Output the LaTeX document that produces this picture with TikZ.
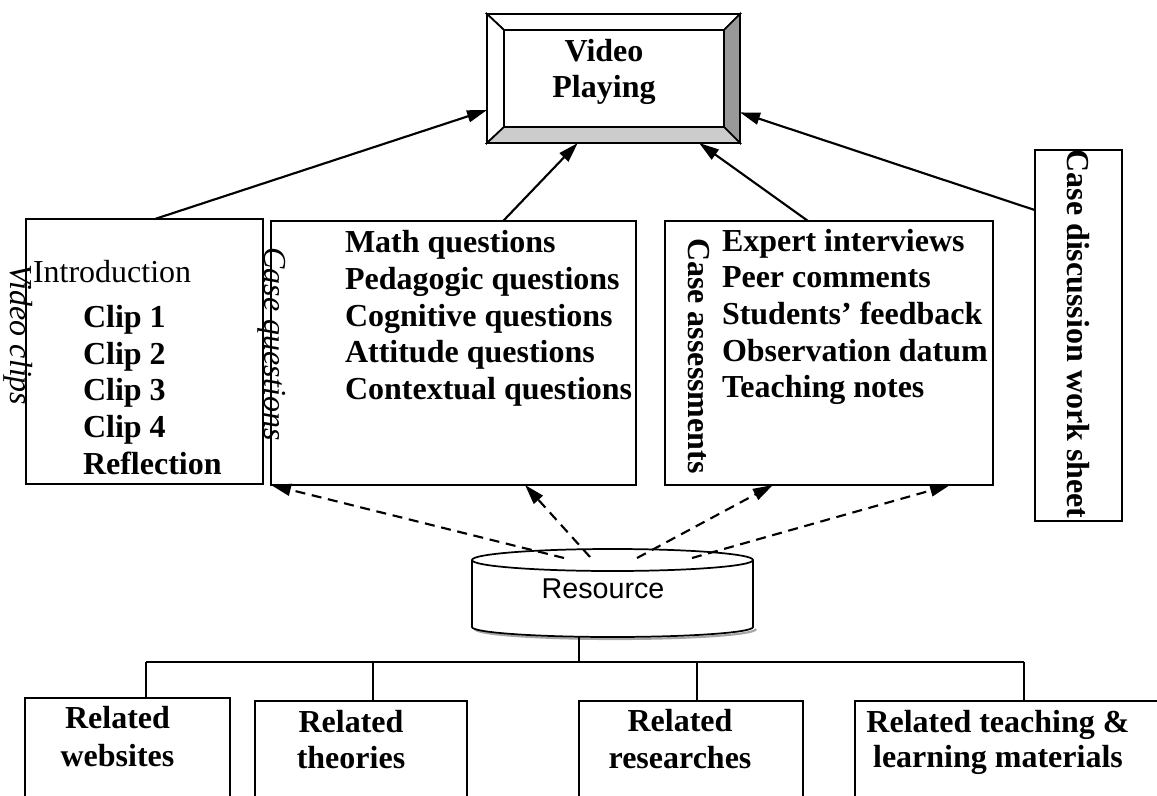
\documentclass[tikz,border=0pt]{standalone}
\usepackage{fontspec}
\setmainfont{Liberation Serif}
\newfontfamily\sansf{Liberation Sans}
\usetikzlibrary{arrows.meta,calc}
\begin{document}
\begin{tikzpicture}[x=0.75pt,y=-0.75pt,
  every node/.style={inner sep=0pt, outer sep=0pt},
  box/.style={draw, line width=1.3pt, rectangle, anchor=north west, fill=white},
  bold/.style={font=\fontsize{24}{28}\selectfont\bfseries},
  ital/.style={font=\fontsize{24}{28}\selectfont\itshape},
  plain/.style={font=\fontsize{24}{28}\selectfont},
  lineL/.style={anchor=base west, bold},
  lineC/.style={anchor=base, bold},
  arr/.style={line width=1.6pt, -{Triangle[length=15pt,width=9pt]}},
  darr/.style={arr, dash pattern=on 7.5pt off 5pt},
  tree/.style={line width=1.3pt},
  bevel/.style={draw, line width=1.3pt, line join=miter}
]
\useasboundingbox (0,0) rectangle (1157,796);
\clip (0,0) rectangle (1157,796);

% ---------- Video Playing (bevel box) ----------
\node[anchor=north west, minimum width=253*0.75pt, minimum height=129*0.75pt] (vp) at (487,14) {};
\coordinate (iNW) at ($(vp.north west)+(17,16)$);
\coordinate (iNE) at ($(vp.north east)+(-16,16)$);
\coordinate (iSW) at ($(vp.south west)+(17,-16)$);
\coordinate (iSE) at ($(vp.south east)+(-16,-16)$);
\path[bevel, fill=white] (vp.north west) -- (vp.north east) -- (iNE) -- (iNW) -- cycle;
\path[bevel, fill=white] (vp.north west) -- (iNW) -- (iSW) -- (vp.south west) -- cycle;
\path[bevel, fill=black!40] (vp.north east) -- (vp.south east) -- (iSE) -- (iNE) -- cycle;
\path[bevel, fill=black!20] (vp.south west) -- (iSW) -- (iSE) -- (vp.south east) -- cycle;
\path[bevel, fill=white] (iNW) rectangle (iSE);
\node[lineC] (vp1) at (604,61) {Video};
\node[lineC] (vp2) at (604,97) {Playing};

% ---------- middle row boxes ----------
\node[box, minimum width=237*0.75pt, minimum height=265*0.75pt] (clips) at (26,219) {};
\node[box, minimum width=365*0.75pt, minimum height=264*0.75pt] (cq) at (271,221) {};
\node[box, minimum width=328*0.75pt, minimum height=264*0.75pt] (ca) at (665,221) {};
\node[box, minimum width=87*0.75pt, minimum height=371*0.75pt] (cd) at (1035,150) {};

% Video clips box
\node[plain, anchor=base west] (intro) at (33,282) {Introduction};
\node[lineL] (c1) at (83,327) {Clip 1};
\node[lineL] (c2) at (83,364) {Clip 2};
\node[lineL] (c3) at (83,400) {Clip 3};
\node[lineL] (c4) at (83,437) {Clip 4};
\node[lineL] (c5) at (83,474) {Reflection};
\node[ital, rotate=-90] (vclbl) at (18,335) {Video clips};

% Case questions box
\node[lineL] (q1) at (345,252) {Math questions};
\node[lineL] (q2) at (345,289) {Pedagogic questions};
\node[lineL] (q3) at (345,326) {Cognitive questions};
\node[lineL] (q4) at (345,362) {Attitude questions};
\node[lineL] (q5) at (345,399) {Contextual questions};
\node[ital, rotate=-90] (cqlbl) at (272,344) {Case questions};

% Case assessments box
\node[lineL] (a1) at (722,251) {Expert interviews};
\node[lineL] (a2) at (722,287) {Peer comments};
\node[lineL] (a3) at (722,324) {Students’ feedback};
\node[lineL] (a4) at (722,361) {Observation datum};
\node[lineL] (a5) at (722,397) {Teaching notes};
\node[bold, rotate=-90] (calbl) at (699,356) {Case assessments};

% Case discussion work sheet
\node[bold, rotate=-90] (cdlbl) at (1078,334) {Case discussion work sheet};

% ---------- solid arrows to Video Playing ----------
\draw[arr] ($(clips.north west)!0.544!(clips.north east)$) -- (vp.194);
\draw[arr] ($(cq.north west)!0.636!(cq.north east)$) -- (vp.241);
\draw[arr] ($(ca.north west)!0.436!(ca.north east)$) -- (vp.323);
\draw[arr] ($(cd.north west)!0.162!(cd.south west)$) -- (vp.345);

% ---------- Resource cylinder ----------
\draw[line width=1.6pt, black!35] (475,629) arc[start angle=180, end angle=360, x radius=105.375pt, y radius=7.5pt];
\filldraw[fill=white, line width=1.3pt] (472,560) -- (472,627)
  arc[start angle=180, end angle=360, x radius=105.375pt, y radius=7.5pt]
  -- (753,560)
  arc[start angle=0, end angle=180, x radius=105.375pt, y radius=8.25pt] -- cycle;
\draw[line width=1.3pt] (472,560) arc[start angle=180, end angle=360, x radius=105.375pt, y radius=8.25pt];
\node[font=\sansf\fontsize{21.5}{25}\selectfont] (res) at (603,589) {Resource};

% ---------- dashed arrows from Resource ----------
\coordinate (r1) at (564,558);
\coordinate (r2) at (590,557);
\coordinate (r3) at (637,558);
\coordinate (r4) at (692,558);
\draw[darr] (r1) -- (cq.south west);
\draw[darr] (r2) -- ($(cq.south west)!0.696!(cq.south east)$);
\draw[darr] (r3) -- ($(ca.south west)!0.329!(ca.south east)$);
\draw[darr] (r4) -- ($(ca.south west)!0.869!(ca.south east)$);

% ---------- bottom boxes ----------
\node[box, minimum width=205*0.75pt, minimum height=130*0.75pt] (w) at (25,698) {};
\node[box, minimum width=212*0.75pt, minimum height=130*0.75pt] (t) at (255,701) {};
\node[box, minimum width=224*0.75pt, minimum height=130*0.75pt] (r) at (579,701) {};
\node[box, minimum width=340*0.75pt, minimum height=130*0.75pt] (m) at (855,701) {};

\node[lineC] (w1) at (117.5,728) {Related};
\node[lineC] (w2) at (117.5,766) {websites};
\node[lineC] (t1) at (351,732) {Related};
\node[lineC] (t2) at (351,768) {theories};
\node[lineC] (r1t) at (680,731) {Related};
\node[lineC] (r2t) at (680,768) {researches};
\node[lineC] (m1) at (998,732) {Related teaching \&};
\node[lineC] (m2) at (998,767) {learning materials};

% ---------- tree ----------
\coordinate (stem) at (579,636);
\coordinate (bus) at (579,662);
\coordinate (b1) at (146,662);
\coordinate (b2) at (373,662);
\coordinate (b3) at (697,662);
\coordinate (b4) at (1024,662);
\draw[tree] (stem) -- (bus);
\draw[tree] (b1) -- (b4);
\draw[tree] (b1) -- (b1 |- w.north);
\draw[tree] (b2) -- (b2 |- t.north);
\draw[tree] (b3) -- (b3 |- r.north);
\draw[tree] (b4) -- (b4 |- m.north);
\end{tikzpicture}
\end{document}
